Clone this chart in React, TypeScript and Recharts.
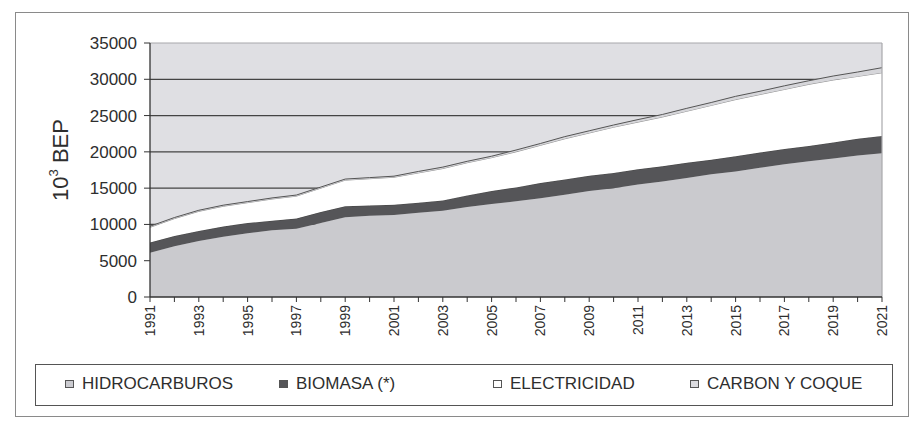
import React from 'react';
import {
  Area,
  AreaChart,
  CartesianGrid,
  ReferenceLine,
  XAxis,
  YAxis
} from 'recharts';

const years = [
  1991, 1992, 1993, 1994, 1995, 1996, 1997, 1998, 1999, 2000, 2001, 2002, 2003, 2004, 2005, 2006,
  2007, 2008, 2009, 2010, 2011, 2012, 2013, 2014, 2015, 2016, 2017, 2018, 2019, 2020, 2021
];

// 10^3 BEP
const hidrocarburos = [
  6100, 7000, 7700, 8300, 8800, 9200, 9400, 10200, 11000, 11200, 11300, 11600, 11900, 12400, 12800,
  13200, 13600, 14100, 14600, 15000, 15500, 15900, 16400, 16900, 17300, 17800, 18300, 18700, 19100,
  19500, 19800
];
const biomasa = [
  1400, 1400, 1400, 1400, 1400, 1300, 1400, 1500, 1500, 1400, 1400, 1400, 1400, 1600, 1800, 1900,
  2100, 2100, 2100, 2100, 2100, 2100, 2100, 2000, 2100, 2100, 2100, 2100, 2200, 2300, 2400
];
const electricidad = [
  2100, 2400, 2700, 2800, 2800, 3000, 3100, 3300, 3600, 3700, 3800, 4100, 4400, 4500, 4600, 4900,
  5200, 5600, 5900, 6300, 6500, 6800, 7100, 7500, 7800, 8000, 8200, 8500, 8600, 8600, 8700
];
const carbonCoque = [
  150, 150, 150, 150, 150, 150, 150, 150, 150, 150, 150, 200, 200, 200, 200, 250, 250, 300, 300, 300,
  350, 350, 400, 400, 450, 450, 500, 500, 550, 600, 700
];

const yTicks = [0, 5000, 10000, 15000, 20000, 25000, 30000, 35000];

const data = years.map((year, i) => ({
  year,
  hidrocarburos: hidrocarburos[i],
  biomasa: biomasa[i],
  electricidad: electricidad[i],
  carbon: carbonCoque[i]
}));

const FONT = '"Liberation Sans", Arial, sans-serif';

const legendItems = [
  { label: 'HIDROCARBUROS', fill: '#cbcbd0', left: 65 },
  { label: 'BIOMASA (*)', fill: '#555558', left: 279 },
  { label: 'ELECTRICIDAD', fill: '#ffffff', left: 493 },
  { label: 'CARBON Y COQUE', fill: '#dcdce0', left: 690 }
];

const YearTick = (props: any) => {
  const { x, y, payload } = props;
  if (payload.value % 2 === 0) return null;
  return (
    <text
      x={x}
      y={y + 1}
      dy="0.36em"
      transform={`rotate(-90, ${x}, ${y + 1})`}
      textAnchor="end"
      fontSize={14}
      fontFamily={FONT}
      fill="#2e2e2e"
    >
      {payload.value}
    </text>
  );
};

const AxisTitle = () => (
  <text
    x={68}
    y={160}
    transform="rotate(-90, 68, 160)"
    textAnchor="middle"
    fontSize={22}
    fontFamily={FONT}
    fill="#2e2e2e"
  >
    <tspan>10</tspan>
    <tspan fontSize={13} dy={-10}>3</tspan>
    <tspan dy={10}> BEP</tspan>
  </text>
);

export default function App() {
  return (
    <div
      style={{
        position: 'absolute',
        left: 0,
        top: 0,
        width: 913,
        height: 422,
        background: '#fff',
        fontFamily: FONT
      }}
    >
      <div
        style={{
          position: 'absolute',
          left: 15,
          top: 12,
          width: 894,
          height: 405,
          border: '1.5px solid #8a8a8a',
          boxSizing: 'border-box'
        }}
      />
      <div style={{ position: 'absolute', left: 0, top: 0 }}>
        <AreaChart
          width={913}
          height={352}
          data={data}
          margin={{ top: 43, right: 31, bottom: 0, left: 0 }}
        >
          <CartesianGrid
            vertical={false}
            horizontalValues={[5000, 10000, 15000, 20000, 25000, 30000]}
            stroke="#444"
            strokeWidth={1.3}
            fill="#dfdfe3"
            fillOpacity={1}
          />
          <XAxis
            dataKey="year"
            interval={0}
            tick={<YearTick />}
            tickSize={5}
            tickLine={{ stroke: '#333' }}
            axisLine={{ stroke: '#333', strokeWidth: 1.3 }}
            height={55}
          />
          <YAxis
            width={150}
            domain={[0, 35000]}
            ticks={yTicks}
            interval={0}
            tickSize={6}
            tickMargin={7}
            tickLine={{ stroke: '#333' }}
            axisLine={{ stroke: '#333', strokeWidth: 1.3 }}
            tick={{ fontSize: 17, fill: '#2e2e2e', fontFamily: FONT }}
            label={<AxisTitle />}
          />
          <Area
            type="linear"
            dataKey="hidrocarburos"
            stackId="1"
            fill="#cacace"
            fillOpacity={1}
            stroke="none"
            isAnimationActive={false}
          />
          <Area
            type="linear"
            dataKey="biomasa"
            stackId="1"
            fill="#555558"
            fillOpacity={1}
            stroke="#444"
            strokeWidth={1}
            isAnimationActive={false}
          />
          <Area
            type="linear"
            dataKey="electricidad"
            stackId="1"
            fill="#ffffff"
            fillOpacity={1}
            stroke="#777"
            strokeWidth={0.8}
            isAnimationActive={false}
          />
          <Area
            type="linear"
            dataKey="carbon"
            stackId="1"
            fill="#d6d6da"
            fillOpacity={1}
            stroke="#555"
            strokeWidth={1}
            isAnimationActive={false}
          />
          <ReferenceLine y={35000} stroke="#a8a8ac" strokeWidth={1.2} />
          <ReferenceLine x={2021} stroke="#a8a8ac" strokeWidth={1.2} />
        </AreaChart>
      </div>
      <div
        style={{
          position: 'absolute',
          left: 35,
          top: 364,
          width: 858,
          height: 42,
          border: '1.5px solid #555',
          boxSizing: 'border-box'
        }}
      />
      {legendItems.map((item) => (
        <div
          key={item.label}
          style={{
            position: 'absolute',
            left: item.left,
            top: 374,
            height: 20,
            display: 'flex',
            alignItems: 'center',
            fontSize: 17,
            color: '#2e2e2e',
            whiteSpace: 'nowrap'
          }}
        >
          <span
            style={{
              display: 'inline-block',
              width: 9,
              height: 8,
              border: '1.5px solid #555',
              background: item.fill,
              boxSizing: 'border-box',
              marginRight: 8
            }}
          />
          {item.label}
        </div>
      ))}
    </div>
  );
}
